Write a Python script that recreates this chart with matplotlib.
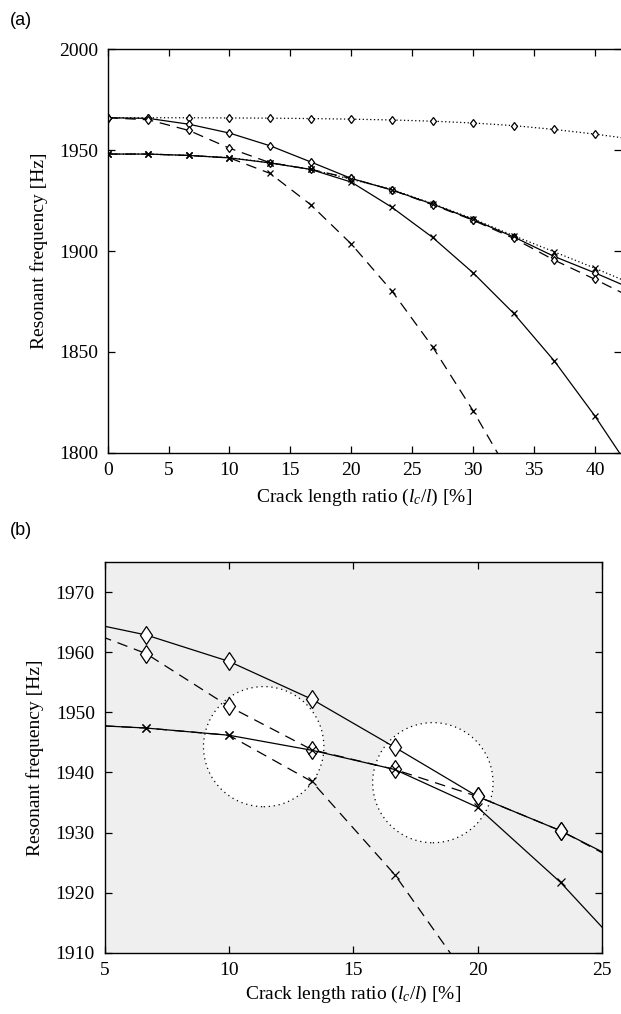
import numpy as np
import matplotlib.pyplot as plt
from matplotlib.patches import Ellipse

plt.rcParams['font.family'] = 'serif'
plt.rcParams['font.serif'] = ['Liberation Serif', 'DejaVu Serif']
plt.rcParams['mathtext.fontset'] = 'custom'
plt.rcParams['mathtext.rm'] = 'Liberation Serif'
plt.rcParams['mathtext.it'] = 'Liberation Serif:italic'

# crack length ratio [%]
crack = np.array([0, 3.333, 6.667, 10, 13.333, 16.667, 20, 23.333,
                  26.667, 30, 33.333, 36.667, 40, 43.333])

# resonant frequencies [Hz]
solid_upper = [1966.1, 1965.8, 1962.9, 1958.5, 1952.2, 1944.2, 1936.0, 1930.3,
               1923.3, 1915.6, 1907.0, 1897.3, 1889.2, 1880.5]
solid_lower = [1948.1, 1948.1, 1947.4, 1946.2, 1943.7, 1940.5, 1934.2, 1921.7,
               1906.8, 1889.2, 1869.1, 1845.5, 1818.2, 1788.0]
dashed_upper = [1966.1, 1965.1, 1959.8, 1951.0, 1943.8, 1940.5, 1936.0, 1930.3,
                1923.0, 1915.3, 1906.3, 1895.5, 1886.0, 1876.0]
dashed_lower = [1948.1, 1948.1, 1947.4, 1946.2, 1938.5, 1923.0, 1903.5, 1880.2,
                1852.6, 1820.8, 1786.0]
dotted_upper = [1966.1, 1966.1, 1966.1, 1966.0, 1965.9, 1965.7, 1965.4, 1965.0,
                1964.4, 1963.5, 1962.2, 1960.3, 1958.0, 1955.3]
dotted_lower = [1948.1, 1948.1, 1947.4, 1946.3, 1943.8, 1940.5, 1935.6, 1930.5,
                1923.5, 1916.0, 1907.6, 1899.6, 1891.5, 1883.0]

# veering regions highlighted in (b): centre (x, f), half-width, half-height
circles = [(11.4, 1944.3, 2.42, 10.0), (18.2, 1938.3, 2.42, 10.0)]

DASH = (0, (8.5, 5.5))
DOT = (0, (1, 2))


def plot_set(ax, sets, ms_d, ms_x):
    for y, ls, mk in sets:
        x = crack[:len(y)]
        ms = ms_d if mk == 'd' else ms_x
        ax.plot(x, y, color='k', lw=0.9, linestyle=ls, marker=mk, ms=ms,
                mfc='white' if mk == 'd' else 'k', mec='k', mew=0.9,
                zorder=3 if mk == 'x' else 2)


def style(ax):
    ax.tick_params(direction='in', length=5, width=0.9, labelsize=14,
                   top=True, right=True, pad=7)
    for s in ax.spines.values():
        s.set_linewidth(1.0)


fig = plt.figure(figsize=(6.21, 10.14), dpi=100)

# (a)
ax1 = fig.add_axes([0.1734, 0.5535, 0.8266, 0.3978])
plot_set(ax1, [(dotted_upper, DOT, 'd'), (solid_upper, '-', 'd'),
               (dashed_upper, DASH, 'd'), (dotted_lower, DOT, 'x'),
               (solid_lower, '-', 'x'), (dashed_lower, DASH, 'x')], 4.5, 5)
ax1.set_xlim(0, 42.14)
ax1.set_ylim(1800, 2000)
ax1.set_xticks(np.arange(0, 41, 5))
ax1.set_yticks(np.arange(1800, 2001, 50))
style(ax1)
ax1.spines['right'].set_visible(False)
ax1.set_xlabel(r'Crack length ratio ($l_c$/$l$) [%]', fontsize=14, labelpad=5)
ax1.set_ylabel('Resonant frequency [Hz]', fontsize=14, labelpad=8)
fig.text(0.016, 0.980, '(a)', family='Liberation Sans', fontsize=13,
         va='center', ha='left')

# (b)
ax2 = fig.add_axes([0.1683, 0.0605, 0.8011, 0.385])
ax2.set_facecolor('#efefef')
for cx, cy, rx, ry in circles:
    ax2.add_patch(Ellipse((cx, cy), 2 * rx, 2 * ry, facecolor='white',
                          edgecolor='k', lw=0.9, linestyle=(0, (1, 3)),
                          zorder=1))
plot_set(ax2, [(solid_upper, '-', 'd'), (dashed_upper, DASH, 'd'),
               (solid_lower, '-', 'x'), (dashed_lower, DASH, 'x')], 9.5, 5.5)
ax2.set_xlim(5, 25)
ax2.set_ylim(1910, 1975)
ax2.set_xticks(np.arange(5, 26, 5))
ax2.set_yticks(np.arange(1910, 1971, 10))
style(ax2)
ax2.set_xlabel(r'Crack length ratio ($l_c$/$l$) [%]', fontsize=14, labelpad=3)
ax2.set_ylabel('Resonant frequency [Hz]', fontsize=14, labelpad=8)
fig.text(0.016, 0.477, '(b)', family='Liberation Sans', fontsize=13,
         va='center', ha='left')

fig.savefig('out.png', dpi=100)
